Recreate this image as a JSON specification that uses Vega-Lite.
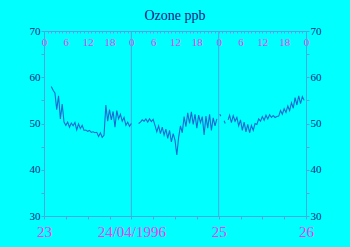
{
  "$schema": "https://vega.github.io/schema/vega-lite/v6.json",
  "width": 262,
  "height": 185,
  "autosize": "none",
  "padding": {"left": 44, "top": 31, "right": 44, "bottom": 31},
  "background": "#00FFFF",
  "title": {"text": "Ozone ppb", "font": "Liberation Serif", "fontSize": 14, "fontWeight": "normal", "color": "#102080", "anchor": "middle", "frame": "group", "offset": 2},
  "config": {"view": {"stroke": null}, "axis": {"grid": false, "domainColor": "#4aa8e0", "tickColor": "#4aa8e0", "labelFont": "Liberation Serif", "title": null, "labelOverlap": false, "labelFlush": false, "labelBound": false}},
  "data": {"values": [
    {"h":2,"v":58.0},{"h":2.5,"v":57.2},{"h":3,"v":56.6},{"h":3.5,"v":53.0},{"h":4,"v":56.0},{"h":4.5,"v":51.0},{"h":5,"v":54.2},{"h":5.5,"v":50.3},
    {"h":6,"v":49.6},{"h":6.5,"v":50.3},{"h":7,"v":49.2},{"h":7.5,"v":50.1},{"h":8,"v":49.5},{"h":8.5,"v":50.2},{"h":9,"v":48.6},{"h":9.5,"v":49.9},
    {"h":10,"v":48.9},{"h":10.5,"v":49.6},{"h":11,"v":48.5},{"h":11.5,"v":48.6},{"h":12,"v":48.3},{"h":12.5,"v":48.5},{"h":13,"v":48.1},{"h":13.5,"v":48.2},
    {"h":14,"v":48.0},{"h":14.5,"v":48.1},{"h":15,"v":47.2},{"h":15.5,"v":48.0},{"h":16,"v":47.0},{"h":16.5,"v":47.5},{"h":17,"v":54.0},{"h":17.5,"v":50.5},
    {"h":18,"v":53.0},{"h":18.5,"v":50.8},{"h":19,"v":52.6},{"h":19.5,"v":49.2},{"h":20,"v":52.8},{"h":20.5,"v":51.0},{"h":21,"v":52.0},{"h":21.5,"v":50.5},
    {"h":22,"v":51.3},{"h":22.5,"v":49.6},{"h":23,"v":50.3},{"h":23.5,"v":49.4},{"h":24,"v":50.0},{"h":24.5,"v":null},{"h":25,"v":50.2},{"h":25.5,"v":null},
    {"h":26,"v":50.0},{"h":26.5,"v":50.3},{"h":27,"v":50.8},{"h":27.5,"v":50.5},{"h":28,"v":51.0},{"h":28.5,"v":50.3},{"h":29,"v":51.0},{"h":29.5,"v":50.4},
    {"h":30,"v":50.9},{"h":30.5,"v":49.6},{"h":31,"v":48.2},{"h":31.5,"v":49.5},{"h":32,"v":47.8},{"h":32.5,"v":49.2},{"h":33,"v":47.5},{"h":33.5,"v":48.8},
    {"h":34,"v":46.8},{"h":34.5,"v":48.5},{"h":35,"v":46.0},{"h":35.5,"v":47.8},{"h":36,"v":46.4},{"h":36.5,"v":43.2},{"h":37,"v":47.0},{"h":37.5,"v":49.5},
    {"h":38,"v":48.0},{"h":38.5,"v":51.5},{"h":39,"v":49.3},{"h":39.5,"v":52.3},{"h":40,"v":50.0},{"h":40.5,"v":52.5},{"h":41,"v":49.8},{"h":41.5,"v":52.0},
    {"h":42,"v":49.0},{"h":42.5,"v":51.8},{"h":43,"v":50.2},{"h":43.5,"v":51.5},{"h":44,"v":47.5},{"h":44.5,"v":51.6},{"h":45,"v":49.0},{"h":45.5,"v":52.0},
    {"h":46,"v":48.5},{"h":46.5,"v":51.2},{"h":47,"v":49.5},{"h":47.5,"v":51.0},{"h":48,"v":null},{"h":48.3,"v":52.0},{"h":48.6,"v":51.6},{"h":49,"v":null},
    {"h":49.5,"v":50.6},{"h":49.8,"v":50.0},{"h":50.2,"v":null},{"h":50.6,"v":50.8},{"h":51,"v":51.8},{"h":51.5,"v":50.2},{"h":52,"v":51.7},{"h":52.5,"v":50.5},
    {"h":53,"v":51.3},{"h":53.5,"v":49.5},{"h":54,"v":50.8},{"h":54.5,"v":48.5},{"h":55,"v":50.3},{"h":55.5,"v":48.2},{"h":56,"v":49.8},{"h":56.5,"v":48.0},
    {"h":57,"v":49.6},{"h":57.5,"v":48.5},{"h":58,"v":50.0},{"h":58.5,"v":49.8},{"h":59,"v":51.0},{"h":59.5,"v":50.5},{"h":60,"v":51.5},{"h":60.5,"v":50.7},
    {"h":61,"v":51.8},{"h":61.5,"v":51.0},{"h":62,"v":51.9},{"h":62.5,"v":51.3},{"h":63,"v":51.7},{"h":63.5,"v":51.3},{"h":64,"v":51.5},{"h":64.5,"v":51.6},
    {"h":65,"v":52.8},{"h":65.5,"v":52.0},{"h":66,"v":53.2},{"h":66.5,"v":52.4},{"h":67,"v":53.8},{"h":67.5,"v":52.8},{"h":68,"v":54.5},{"h":68.5,"v":53.3},
    {"h":69,"v":55.6},{"h":69.5,"v":54.0},{"h":70,"v":56.0},{"h":70.5,"v":54.3},{"h":71,"v":55.8},{"h":71.5,"v":55.0}
  ]},
  "layer": [
    {
      "data": {"values": [{"d": 24}, {"d": 48}]},
      "mark": {"type": "rule", "color": "#4aa8e0", "strokeWidth": 1},
      "encoding": {
        "x": {"field": "d", "type": "quantitative", "scale": {"domain": [0, 72], "nice": false, "zero": false},
          "axis": {"orient": "bottom", "values": [0,6,12,18,24,30,36,42,48,54,60,66,72], "tickSize": 3, "labelPadding": 5, "labelFontSize": 15, "labelColor": "#f03cf0",
            "labelExpr": "datum.value == 0 ? '23' : datum.value == 24 ? '24/04/1996' : datum.value == 48 ? '25' : datum.value == 72 ? '26' : ''"}}
      }
    },
    {
      "mark": {"type": "line", "color": "#1a6ad0", "strokeWidth": 1.1},
      "encoding": {
        "x": {"field": "h", "type": "quantitative", "scale": {"domain": [0, 72], "nice": false, "zero": false},
          "axis": {"orient": "bottom", "offset": -185, "values": [0,1,2,3,4,5,6,7,8,9,10,11,12,13,14,15,16,17,18,19,20,21,22,23,24,25,26,27,28,29,30,31,32,33,34,35,36,37,38,39,40,41,42,43,44,45,46,47,48,49,50,51,52,53,54,55,56,57,58,59,60,61,62,63,64,65,66,67,68,69,70,71,72],
            "tickSize": 2, "tickColor": "#9a80f0", "labelPadding": 3, "labelFontSize": 11, "labelColor": "#f03cf0",
            "labelExpr": "datum.value % 6 == 0 ? '' + (datum.value % 24) : ''"}},
        "y": {"field": "v", "type": "quantitative", "scale": {"domain": [30, 70], "nice": false, "zero": false},
          "axis": {"orient": "left", "values": [30,35,40,45,50,55,60,65,70], "tickSize": 3, "labelPadding": 1, "labelFontSize": 11, "labelColor": "#102a80",
            "labelExpr": "datum.value % 10 == 0 ? datum.label : ''"}}
      }
    },
    {
      "mark": {"type": "line", "strokeOpacity": 0},
      "encoding": {
        "x": {"field": "h", "type": "quantitative", "scale": {"domain": [0, 72], "nice": false, "zero": false}, "axis": null},
        "y": {"field": "v", "type": "quantitative", "scale": {"domain": [30, 70], "nice": false, "zero": false},
          "axis": {"orient": "right", "values": [30,35,40,45,50,55,60,65,70], "tickSize": 3, "labelPadding": 1, "labelFontSize": 11, "labelColor": "#102a80",
            "labelExpr": "datum.value % 10 == 0 ? datum.label : ''"}}
      }
    }
  ],
  "resolve": {"axis": {"x": "independent", "y": "independent"}}
}
